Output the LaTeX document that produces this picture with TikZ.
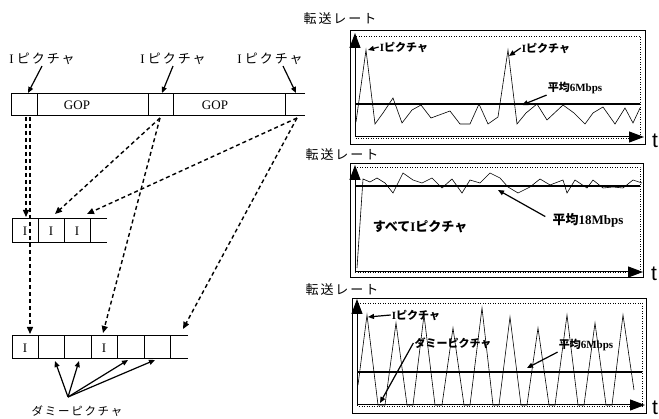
\documentclass[tikz,border=0pt]{standalone}
\usepackage{fontspec}
\setmainfont{Liberation Serif}
\setsansfont{Liberation Sans}
\newfontfamily\jp{Noto Sans CJK JP}
\newfontfamily\jpw{Noto Sans CJK JP}[LetterSpace=15]
\usetikzlibrary{arrows.meta}

\begin{document}
\begin{tikzpicture}[x=1pt, y=-1pt, line cap=butt,
  bar/.style={line width=1pt},
  dsh/.style={line width=1.4pt, dash pattern=on 4pt off 3pt, -{Triangle[length=7pt,width=6pt]}},
  sarr/.style={line width=1.2pt, -{Triangle[length=6pt,width=5pt]}},
  ax/.style={line width=1pt, -{Triangle[length=15pt,width=11pt]}},
  frame/.style={line width=0.6pt},
  dots/.style={line width=0.5pt, dotted},
  wave/.style={line width=0.6pt},
  avg/.style={line width=1.1pt},
  lbl/.style={inner sep=1pt, font=\bfseries\fontsize{11}{13}\selectfont},
  big/.style={inner sep=1pt, font=\bfseries\fontsize{13}{15}\selectfont},
  txt/.style={inner sep=1pt, font=\fontsize{13}{15}\selectfont},
  tt/.style={inner sep=0pt, font=\sffamily\fontsize{21}{23}\selectfont}]
\useasboundingbox (0,0) rectangle (659,419);
\def\ya{94}\def\yb{116}
\draw[bar] (305,\ya) -- (11,\ya) -- (11,\yb) -- (305,\yb);
\foreach \x in {37,148,173,285} \draw[bar] (\x,\ya) -- (\x,\yb);
\node[txt] (gop1) at (77,105) {GOP};
\node[txt] (gop2) at (215,105) {GOP};
\node[txt] (lab1) at (42,59) {I {\jpw ピクチャ}};
\node[txt] (lab2) at (173,59) {I {\jpw ピクチャ}};
\node[txt] (lab3) at (270,59) {I {\jpw ピクチャ}};
\coordinate (c1) at (28,93);
\coordinate (c2) at (162,93);
\coordinate (c3) at (296,93);
\draw[sarr] (lab1.south) -- (c1);
\draw[sarr] (lab2.south) -- (c2);
\draw[sarr] ([xshift=13pt]lab3.south) -- (c3);
\draw[bar] (107,219) -- (12,219) -- (12,243) -- (107,243);
\foreach \x in {38,64,90} \draw[bar] (\x,219) -- (\x,243);
\node[txt] (m1i) at (25,231) {I};
\node[txt] (m2i) at (51,231) {I};
\node[txt] (m3i) at (77,231) {I};
\draw[bar] (188,336) -- (12,336) -- (12,359) -- (188,359);
\foreach \x in {38,64,91,117,144,170} \draw[bar] (\x,336) -- (\x,359);
\node[txt] (b1i) at (25,348) {I};
\node[txt] (b4i) at (104,348) {I};
\coordinate (i1a) at (26,117);
\coordinate (i1b) at (30,117);
\coordinate (i2) at (160,118);
\coordinate (i3) at (297,118);
\coordinate (m1) at (26,217);
\coordinate (m2) at (55,214);
\coordinate (m3) at (87,214);
\coordinate (b1) at (30,334);
\coordinate (b4) at (103,333);
\coordinate (b7) at (183,329);
\draw[dsh] (i1a) -- (m1);
\draw[dsh] (i1b) -- (b1);
\draw[dsh] (i2) -- (m2);
\draw[dsh] (i2) -- (b4);
\draw[dsh] (i3) -- (m3);
\draw[dsh] (i3) -- (b7);
\coordinate (dm) at (68,397);
\coordinate (d2) at (55,361);
\coordinate (d3) at (79,361);
\coordinate (d5) at (128,360);
\coordinate (d6) at (155,360);
\foreach \t in {d2,d3,d5,d6} \draw[sarr] (dm) -- (\t);
\node[inner sep=1pt, font=\fontsize{11.5}{13}\selectfont] (dlab) at (77,411) {\jpw ダミーピクチャ};
\node[txt] (r1) at (340,19) {\jpw 転送レート};
\draw[frame] (350,30) rectangle (645,144);
\draw[dots] (355,36) rectangle (640,138);
\coordinate (o1) at (355,137);
\draw[ax] (o1) -- (355,33);
\draw[ax] (o1) -- (644,137);
\node[tt] (t1) at (655,141) {t};
\draw[avg] (355,104) -- (640,104);
\draw[wave] (356,122) -- (366,50) -- (375,124) -- (383,113) -- (393,98) -- (402,123)
  -- (412,110) -- (421,105) -- (431,118) -- (450,111) -- (460,124) -- (470,124)
  -- (479,104) -- (488,124) -- (498,117) -- (508,50) -- (517,124) -- (526,113)
  -- (537,104) -- (547,120) -- (563,105) -- (574,113) -- (585,124) -- (593,113)
  -- (603,107) -- (615,124) -- (625,108) -- (633,123) -- (640,108);
\node[lbl] (g1p1) at (404,47) {I{\jp ピクチャ}};
\node[lbl] (g1p2) at (546,48) {I{\jp ピクチャ}};
\node[lbl] (g1avg) at (575,88) {{\jp 平均}6Mbps};
\coordinate (pk1) at (368,50);
\coordinate (pk2) at (509,56);
\coordinate (a1) at (522,105);
\draw[sarr] (g1p1.west) -- (pk1);
\draw[sarr] (g1p2.west) -- (pk2);
\draw[sarr] (g1avg.south west) -- (a1);
\node[txt] (r2) at (342,155) {\jpw 転送レート};
\draw[frame] (350,163) rectangle (643,277);
\draw[dots] (355,167) rectangle (640,272);
\coordinate (o2) at (355,272);
\draw[ax] (o2) -- (355,165);
\draw[ax] (o2) -- (643,272);
\node[tt] (t2) at (654,274) {t};
\draw[avg] (355,186) -- (640,186);
\draw[wave] (357,268) -- (363,179) -- (370,182) -- (377,178) -- (385,183) -- (393,193)
  -- (403,173) -- (413,180) -- (422,183) -- (432,178) -- (442,188) -- (452,179)
  -- (462,193) -- (470,180) -- (480,183) -- (490,173) -- (500,178) -- (508,187)
  -- (518,193) -- (530,187) -- (540,179) -- (550,185) -- (563,180) -- (567,193)
  -- (575,180) -- (587,188) -- (593,180) -- (603,188) -- (613,187) -- (623,188)
  -- (633,180) -- (642,183);
\node[big] (g2all) at (420,227) {{\jp すべて}I{\jp ピクチャ}};
\node[big] (g2avg) at (588,220) {{\jp 平均}18Mbps};
\coordinate (a2) at (498,190);
\draw[sarr, shorten <=7pt] (g2avg.west) -- (a2);
\node[txt] (r3) at (342,290) {\jpw 転送レート};
\draw[frame] (352,298) rectangle (646,413);
\draw[dots] (357,303) rectangle (642,406);
\coordinate (o3) at (357,405);
\draw[ax] (o3) -- (357,299);
\draw[ax] (o3) -- (645,405);
\node[tt] (t3) at (655,408) {t};
\draw[avg] (357,372) -- (642,372);
\draw[wave] (358,385) -- (367,315) -- (378,405) -- (385,405) -- (396,323) -- (407,405)
  -- (413,405) -- (424,315) -- (435,405) -- (442,405) -- (453,328) -- (464,405)
  -- (470,405) -- (482,308) -- (493,405) -- (499,405) -- (510,317) -- (521,405)
  -- (527,405) -- (538,328) -- (549,405) -- (555,405) -- (567,315) -- (578,405)
  -- (584,405) -- (595,323) -- (606,405) -- (612,405) -- (623,315) -- (634,390);
\node[lbl] (g3p) at (416,315) {I{\jp ピクチャ}};
\node[lbl] (g3d) at (453,343) {\jp ダミーピクチャ};
\node[lbl] (g3avg) at (586,345) {{\jp 平均}6Mbps};
\coordinate (pk3) at (368,317);
\coordinate (dd) at (380,403);
\coordinate (a3) at (527,368);
\draw[sarr] (g3p.west) -- (pk3);
\draw[sarr] (g3d.west) -- (dd);
\draw[sarr] (g3avg.south west) -- (a3);
\end{tikzpicture}
\end{document}
